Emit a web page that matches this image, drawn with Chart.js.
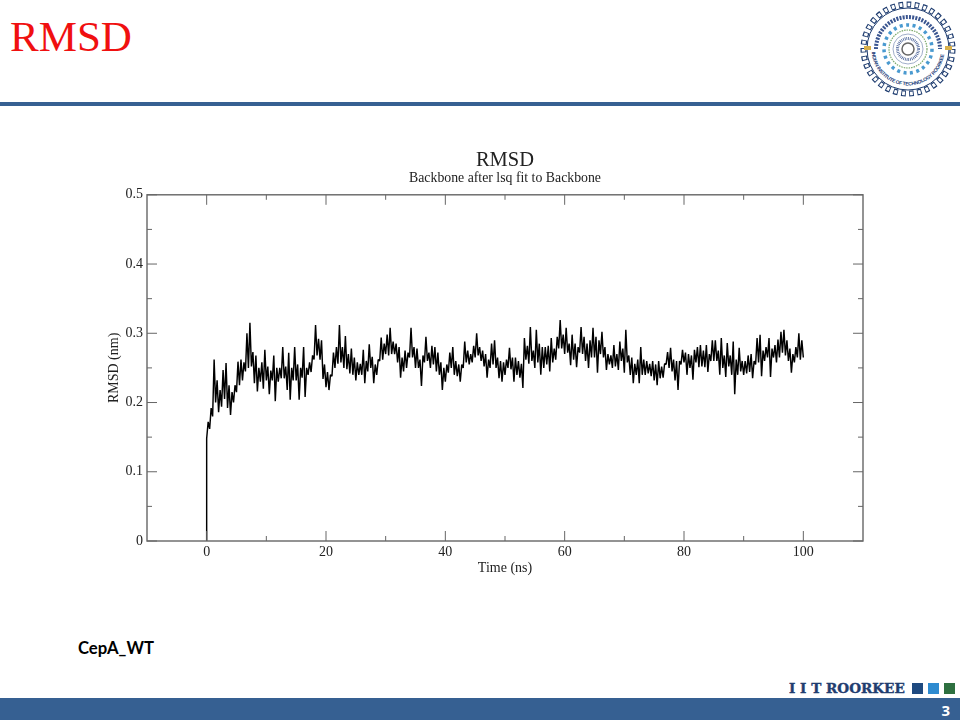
<!DOCTYPE html>
<html lang="en-US">
	<head>
		<meta charset="utf-8" />
		<title>RMSD</title>
		<script src="https://cdn.jsdelivr.net/npm/chart.js@4"></script>
		<style>
			html, body { margin: 0; padding: 0; background: #fff; overflow: hidden; }
			#slide { position: relative; width: 960px; height: 720px; }
			#slide > * { position: absolute; }
			#heading { left: 10px; top: 11px; font: 43px/52px "Liberation Serif", serif; color: #f01010; }
			#topBar { left: 0; top: 102px; width: 960px; height: 4px; background: #366092; }
			#bottomBar { left: 0; top: 698px; width: 960px; height: 22px; background: #366092; }
			#pageNum { right: 10px; top: 700px; font: bold 15px/20px "Open Sans", sans-serif; color: #fff; }
			#caption { left: 78px; top: 638px; font: bold 16.7px/20px Lato, sans-serif; color: #000; }
			#brand { left: 789px; top: 679px; font: bold 13.6px/18px "DejaVu Serif", serif; color: #1f3d70; -webkit-text-stroke: 0.4px #1f3d70; white-space: nowrap; }
			.sq { top: 683px; width: 11px; height: 11px; }
			#logo { left: 858px; top: 0; }
			#chartCanvas { left: 0; top: 0; }
		</style>
	</head>
	<body>
		<div id="slide">
			<div id="heading">RMSD</div>
			<div id="topBar"></div>
			<svg id="logo" width="100" height="100" viewBox="0 0 100 100">
				<circle cx="50" cy="49" r="44.5" fill="none" stroke="#1f3d70" stroke-width="6" stroke-dasharray="4.6 3.4" />
				<circle cx="50" cy="49" r="44.5" fill="none" stroke="#fff" stroke-width="3.6" stroke-dasharray="2.8 5.2" stroke-dashoffset="-0.9" />
				<circle cx="50" cy="49" r="41" fill="none" stroke="#1f3d70" stroke-width="1" />
				<path d="M18 49 A32 32 0 0 1 82 49" fill="none" stroke="#3a5590" stroke-width="4" stroke-dasharray="2 1.2" />
				<path id="arcBottom" d="M13.5 49 A36.5 36.5 0 0 0 86.5 49" fill="none" />
				<text font-family="Liberation Sans" font-size="5" font-weight="bold" fill="#24407a" textLength="106">
					<textPath href="#arcBottom" startOffset="3">INDIAN INSTITUTE OF TECHNOLOGY ROORKEE</textPath>
				</text>
				<circle cx="50" cy="49" r="24" fill="none" stroke="#4a9ad0" stroke-width="3.5" stroke-dasharray="3 3.5" />
				<circle cx="50" cy="49" r="19" fill="none" stroke="#7aa86a" stroke-width="1.2" stroke-dasharray="1.5 1" />
				<circle cx="50" cy="49" r="15" fill="none" stroke="#8899bb" stroke-width="0.8" />
				<circle cx="50" cy="49" r="10.5" fill="none" stroke="#3a5590" stroke-width="3" stroke-dasharray="0.7 1" />
				<circle cx="50" cy="49" r="6" fill="none" stroke="#666" stroke-width="1.5" />
				<rect x="6" y="46" width="7" height="4" fill="#d8b04a" />
				<rect x="87" y="46" width="7" height="4" fill="#d8b04a" />
			</svg>
			<div id="caption">CepA_WT</div>
			<div id="brand">I I T ROORKEE</div>
			<div class="sq" style="left: 912px; background: #1f4a80"></div>
			<div class="sq" style="left: 928px; background: #2e8bd0"></div>
			<div class="sq" style="left: 944px; background: #2e7040"></div>
			<div id="bottomBar"></div>
			<div id="pageNum">3</div>
			<canvas id="chartCanvas" width="960" height="720"></canvas>
		</div>

		<script>
			const xTicks = [0, 20, 40, 60, 80, 100];
			const xMinorTicks = [10, 30, 50, 70, 90];
			const yTicks = [0, 0.1, 0.2, 0.3, 0.4, 0.5];
			const yMinorTicks = [0.05, 0.15, 0.25, 0.35, 0.45];

			// time in ns, 20 samples per row
			const times = [0,
				0, .25, .5, .75, 1, 1.25, 1.5, 1.75, 2, 2.25, 2.5, 2.75, 3, 3.25, 3.5, 3.75, 4, 4.25, 4.5, 4.75,
				5, 5.25, 5.5, 5.75, 6, 6.25, 6.5, 6.75, 7, 7.25, 7.5, 7.75, 8, 8.25, 8.5, 8.75, 9, 9.25, 9.5, 9.75,
				10, 10.25, 10.5, 10.75, 11, 11.25, 11.5, 11.75, 12, 12.25, 12.5, 12.75, 13, 13.25, 13.5, 13.75, 14, 14.25, 14.5, 14.75,
				15, 15.25, 15.5, 15.75, 16, 16.25, 16.5, 16.75, 17, 17.25, 17.5, 17.75, 18, 18.25, 18.5, 18.75, 19, 19.25, 19.5, 19.75,
				20, 20.25, 20.5, 20.75, 21, 21.25, 21.5, 21.75, 22, 22.25, 22.5, 22.75, 23, 23.25, 23.5, 23.75, 24, 24.25, 24.5, 24.75,
				25, 25.25, 25.5, 25.75, 26, 26.25, 26.5, 26.75, 27, 27.25, 27.5, 27.75, 28, 28.25, 28.5, 28.75, 29, 29.25, 29.5, 29.75,
				30, 30.25, 30.5, 30.75, 31, 31.25, 31.5, 31.75, 32, 32.25, 32.5, 32.75, 33, 33.25, 33.5, 33.75, 34, 34.25, 34.5, 34.75,
				35, 35.25, 35.5, 35.75, 36, 36.25, 36.5, 36.75, 37, 37.25, 37.5, 37.75, 38, 38.25, 38.5, 38.75, 39, 39.25, 39.5, 39.75,
				40, 40.25, 40.5, 40.75, 41, 41.25, 41.5, 41.75, 42, 42.25, 42.5, 42.75, 43, 43.25, 43.5, 43.75, 44, 44.25, 44.5, 44.75,
				45, 45.25, 45.5, 45.75, 46, 46.25, 46.5, 46.75, 47, 47.25, 47.5, 47.75, 48, 48.25, 48.5, 48.75, 49, 49.25, 49.5, 49.75,
				50, 50.25, 50.5, 50.75, 51, 51.25, 51.5, 51.75, 52, 52.25, 52.5, 52.75, 53, 53.25, 53.5, 53.75, 54, 54.25, 54.5, 54.75,
				55, 55.25, 55.5, 55.75, 56, 56.25, 56.5, 56.75, 57, 57.25, 57.5, 57.75, 58, 58.25, 58.5, 58.75, 59, 59.25, 59.5, 59.75,
				60, 60.25, 60.5, 60.75, 61, 61.25, 61.5, 61.75, 62, 62.25, 62.5, 62.75, 63, 63.25, 63.5, 63.75, 64, 64.25, 64.5, 64.75,
				65, 65.25, 65.5, 65.75, 66, 66.25, 66.5, 66.75, 67, 67.25, 67.5, 67.75, 68, 68.25, 68.5, 68.75, 69, 69.25, 69.5, 69.75,
				70, 70.25, 70.5, 70.75, 71, 71.25, 71.5, 71.75, 72, 72.25, 72.5, 72.75, 73, 73.25, 73.5, 73.75, 74, 74.25, 74.5, 74.75,
				75, 75.25, 75.5, 75.75, 76, 76.25, 76.5, 76.75, 77, 77.25, 77.5, 77.75, 78, 78.25, 78.5, 78.75, 79, 79.25, 79.5, 79.75,
				80, 80.25, 80.5, 80.75, 81, 81.25, 81.5, 81.75, 82, 82.25, 82.5, 82.75, 83, 83.25, 83.5, 83.75, 84, 84.25, 84.5, 84.75,
				85, 85.25, 85.5, 85.75, 86, 86.25, 86.5, 86.75, 87, 87.25, 87.5, 87.75, 88, 88.25, 88.5, 88.75, 89, 89.25, 89.5, 89.75,
				90, 90.25, 90.5, 90.75, 91, 91.25, 91.5, 91.75, 92, 92.25, 92.5, 92.75, 93, 93.25, 93.5, 93.75, 94, 94.25, 94.5, 94.75,
				95, 95.25, 95.5, 95.75, 96, 96.25, 96.5, 96.75, 97, 97.25, 97.5, 97.75, 98, 98.25, 98.5, 98.75, 99, 99.25, 99.5, 99.75,
				100];

			// spikes kept where they stand out of the dark band
			const rmsd = [0,
				.148, .172, .162, .192, .18, .262, .2, .232, .186, .218, .194, .247, .205, .257, .192, .225, .182, .215, .2, .225,
				.215, .259, .225, .262, .232, .258, .245, .3, .25, .315, .252, .273, .228, .268, .216, .25, .23, .258, .22, .276,
				.232, .252, .212, .246, .232, .268, .202, .25, .23, .25, .235, .28, .235, .252, .218, .272, .204, .25, .232, .28,
				.232, .255, .204, .25, .236, .28, .208, .25, .24, .258, .244, .268, .262, .312, .268, .292, .262, .29, .234, .255,
				.222, .244, .218, .24, .238, .272, .25, .28, .256, .312, .258, .28, .25, .296, .248, .27, .242, .278, .24, .265,
				.232, .258, .24, .256, .24, .276, .228, .26, .245, .284, .25, .266, .228, .255, .24, .262, .26, .294, .262, .285,
				.27, .298, .268, .308, .27, .288, .27, .285, .258, .28, .236, .265, .245, .275, .25, .272, .265, .308, .265, .28,
				.25, .278, .25, .262, .224, .268, .258, .295, .26, .272, .25, .282, .255, .28, .245, .272, .24, .258, .218, .25,
				.23, .255, .243, .272, .25, .28, .24, .26, .238, .255, .23, .255, .25, .288, .258, .275, .255, .27, .258, .282,
				.265, .3, .268, .28, .26, .275, .252, .27, .236, .262, .25, .285, .255, .29, .25, .265, .235, .26, .23, .258,
				.24, .262, .25, .279, .248, .265, .23, .265, .24, .26, .236, .256, .221, .293, .262, .282, .256, .309, .26, .275,
				.25, .305, .258, .285, .24, .28, .25, .28, .255, .282, .245, .293, .258, .278, .262, .295, .278, .319, .278, .298,
				.27, .308, .272, .285, .254, .298, .262, .285, .251, .28, .272, .309, .27, .295, .26, .285, .25, .29, .265, .308,
				.265, .295, .243, .29, .27, .302, .265, .28, .247, .27, .255, .268, .25, .283, .252, .27, .247, .288, .26, .278,
				.243, .305, .258, .268, .24, .265, .228, .256, .24, .262, .228, .28, .24, .262, .24, .26, .242, .256, .238, .26,
				.232, .255, .225, .26, .235, .252, .236, .256, .255, .273, .25, .279, .245, .262, .232, .26, .218, .26, .255, .276,
				.258, .272, .24, .27, .25, .268, .233, .276, .258, .28, .251, .283, .252, .275, .251, .283, .244, .27, .26, .29,
				.26, .29, .26, .275, .24, .293, .25, .268, .237, .286, .252, .268, .24, .288, .212, .262, .24, .279, .245, .26,
				.24, .26, .242, .268, .244, .27, .235, .26, .255, .293, .258, .298, .238, .275, .26, .28, .265, .293, .237, .278,
				.265, .283, .258, .291, .265, .302, .272, .305, .268, .29, .26, .278, .243, .27, .258, .28, .265, .3, .262, .29,
				.265];

			const points = times.map((t, i) => ({ x: t, y: rmsd[i] }));

			const serif = "'Liberation Serif', serif";
			const inkColor = "#666";

			// xmgrace style frame: ticks point inwards on all four sides
			const framePlugin = {
				id: "frame",
				afterDatasetsDraw(chart) {
					const { ctx, chartArea: a, scales } = chart;
					const mark = (x1, y1, x2, y2) => {
						ctx.beginPath();
						ctx.moveTo(x1, y1);
						ctx.lineTo(x2, y2);
						ctx.stroke();
					};
					ctx.save();
					ctx.strokeStyle = inkColor;
					ctx.lineWidth = 1.4;
					ctx.strokeRect(a.left, a.top, a.right - a.left, a.bottom - a.top);
					ctx.lineWidth = 1;
					const xTick = (v, len) => {
						const x = scales.x.getPixelForValue(v);
						mark(x, a.bottom, x, a.bottom - len);
						mark(x, a.top, x, a.top + len);
					};
					const yTick = (v, len) => {
						const y = scales.y.getPixelForValue(v);
						mark(a.left, y, a.left + len, y);
						mark(a.right, y, a.right - len, y);
					};
					xTicks.forEach((v) => xTick(v, 10));
					xMinorTicks.forEach((v) => xTick(v, 5));
					yTicks.forEach((v) => yTick(v, 10));
					yMinorTicks.forEach((v) => yTick(v, 5));
					ctx.restore();
				},
			};

			new Chart(document.getElementById("chartCanvas"), {
				type: "line",
				data: {
					datasets: [
						{
							data: points,
							borderColor: "#000",
							borderWidth: 1.45,
							borderJoinStyle: "bevel",
							pointRadius: 0,
							tension: 0,
						},
					],
				},
				options: {
					responsive: false,
					animation: false,
					layout: { padding: { left: 106, right: 97, top: 150, bottom: 143 } },
					plugins: {
						legend: { display: false },
						tooltip: { enabled: false },
						title: {
							display: true,
							text: "RMSD",
							fullSize: false,
							color: "#222",
							font: { family: serif, size: 20.5, weight: "normal", lineHeight: 1 },
							padding: { top: 0, bottom: 1 },
						},
						subtitle: {
							display: true,
							text: "Backbone after lsq fit to Backbone",
							fullSize: false,
							color: "#222",
							font: { family: serif, size: 13.8, weight: "normal", lineHeight: 1 },
							padding: { top: 0, bottom: 9.5 },
						},
					},
					scales: {
						x: {
							type: "linear",
							min: -10,
							max: 110,
							afterBuildTicks: (scale) => {
								scale.ticks = xTicks.map((value) => ({ value }));
							},
							afterFit: (scale) => {
								scale.height = 36;
							},
							grid: { display: false, drawTicks: false },
							border: { display: false },
							ticks: {
								color: "#222",
								maxRotation: 0,
								padding: 3,
								font: { family: serif, size: 14 },
							},
							title: {
								display: true,
								text: "Time (ns)",
								color: "#222",
								padding: { top: 0, bottom: 0 },
								font: { family: serif, size: 14 },
							},
						},
						y: {
							min: 0,
							max: 0.5,
							afterBuildTicks: (scale) => {
								scale.ticks = yTicks.map((value) => ({ value }));
							},
							afterFit: (scale) => {
								scale.width = 41;
							},
							grid: { display: false, drawTicks: false },
							border: { display: false },
							ticks: {
								color: "#222",
								padding: 4,
								font: { family: serif, size: 14 },
								callback: (v) => String(v),
							},
							title: {
								display: true,
								text: "RMSD (nm)",
								color: "#222",
								padding: { top: 0, bottom: 0 },
								font: { family: serif, size: 14 },
							},
						},
					},
				},
				plugins: [framePlugin],
			});
		</script>
	</body>
</html>
